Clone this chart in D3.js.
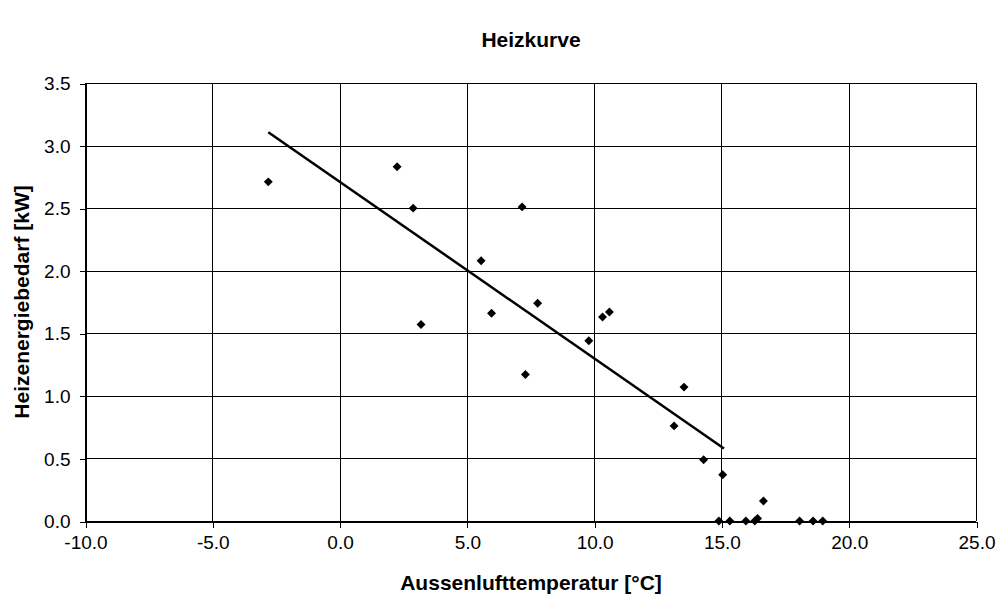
<!DOCTYPE html>
<html>
<head>
<meta charset="utf-8">
<script src="https://cdn.jsdelivr.net/npm/d3@7"></script>
<style>
  body { margin: 0; background: #fff; }
  svg { display: block; font-family: "Liberation Sans", Arial, sans-serif; }
  .tick text { font-size: 19px; fill: #000; }
  .axis-title, .chart-title { font-size: 21px; font-weight: bold; fill: #000; }
</style>
</head>
<body>
<div id="chart"></div>
<script>
// Aussenlufttemperatur [°C]
const temps = [-2.8, 2.26, 2.89, 3.2, 5.56, 5.97, 7.17, 7.3, 7.78, 9.79, 10.33, 10.6,
  13.14, 13.53, 14.3, 15.05, 14.9, 15.33, 15.96, 16.31, 16.42, 16.65, 18.07, 18.6, 18.98];
// Heizenergiebedarf [kW]
const heat = [2.71, 2.83, 2.5, 1.57, 2.08, 1.66, 2.51, 1.17, 1.74, 1.44, 1.63, 1.67,
  0.76, 1.07, 0.49, 0.37, 0, 0, 0, 0, 0.02, 0.16, 0, 0, 0];
// linear trend line end points
const trendX = [-2.8, 15.1];
const trendY = [3.107, 0.58];

const xTicks = [-10, -5, 0, 5, 10, 15, 20, 25];
const yTicks = [0, 0.5, 1, 1.5, 2, 2.5, 3, 3.5];

const width = 999;
const height = 601;
const margin = { top: 83, right: 23, bottom: 80, left: 85 };

// plain hyphen as minus sign, like the original
const fmt = d3.formatLocale({ decimal: ".", thousands: ",", grouping: [3], currency: ["", ""], minus: "-" })
  .format(".1f");

const x = d3.scaleLinear()
  .domain([-10, 25])
  .range([margin.left, width - margin.right]);
const y = d3.scaleLinear()
  .domain([0, 3.5])
  .range([height - margin.bottom, margin.top]);

const svg = d3.select("#chart")
  .append("svg")
  .attr("width", width)
  .attr("height", height);

// grid
const gGrid = svg.append("g").attr("class", "grid")
  .attr("stroke", "#000").attr("stroke-width", 1).attr("shape-rendering", "crispEdges");
gGrid.selectAll(".hgrid")
  .data(yTicks)
  .join("line")
  .attr("class", "hgrid")
  .attr("x1", x(-10)).attr("x2", x(25))
  .attr("y1", (d) => Math.round(y(d)) + 0.5)
  .attr("y2", (d) => Math.round(y(d)) + 0.5);
gGrid.selectAll(".vgrid")
  .data(xTicks)
  .join("line")
  .attr("class", "vgrid")
  .attr("y1", y(0)).attr("y2", y(3.5))
  .attr("x1", (d) => Math.round(x(d)) + 0.5)
  .attr("x2", (d) => Math.round(x(d)) + 0.5);

// axes
const xAxis = d3.axisBottom(x).tickValues(xTicks).tickFormat(fmt)
  .tickSizeInner(6).tickSizeOuter(0).tickPadding(8);
const yAxis = d3.axisLeft(y).tickValues(yTicks).tickFormat(fmt)
  .tickSizeInner(6).tickSizeOuter(0).tickPadding(9);

const gx = svg.append("g")
  .attr("transform", `translate(0.5,${Math.round(y(0)) + 0.5})`)
  .call(xAxis);
const gy = svg.append("g")
  .attr("transform", `translate(${Math.round(x(-10)) + 0.5},0.5)`)
  .call(yAxis);
[gx, gy].forEach((g) => {
  g.attr("font-family", null).attr("font-size", null);
  g.selectAll("path, line").attr("stroke", "#000").attr("shape-rendering", "crispEdges");
});

// trend line
svg.append("line")
  .attr("x1", x(trendX[0])).attr("y1", y(trendY[0]))
  .attr("x2", x(trendX[1])).attr("y2", y(trendY[1]))
  .attr("stroke", "#000")
  .attr("stroke-width", 2.5);

// points
const diamond = d3.symbol().type(d3.symbolSquare).size(40);
svg.append("g").attr("class", "points")
  .selectAll("path")
  .data(temps.map((t, i) => ({ t, h: heat[i] })))
  .join("path")
  .attr("d", diamond)
  .attr("transform", (d) => `translate(${x(d.t)},${y(d.h)}) rotate(45)`)
  .attr("fill", "#000");

// titles
svg.append("text")
  .attr("class", "chart-title")
  .attr("x", 531).attr("y", 47)
  .attr("text-anchor", "middle")
  .text("Heizkurve");

svg.append("text")
  .attr("class", "axis-title")
  .attr("x", 531).attr("y", 590)
  .attr("text-anchor", "middle")
  .text("Aussenlufttemperatur [°C]");

svg.append("text")
  .attr("class", "axis-title")
  .attr("transform", `translate(29,${(y(0) + y(3.5)) / 2}) rotate(-90)`)
  .attr("text-anchor", "middle")
  .text("Heizenergiebedarf [kW]");
</script>
</body>
</html>
